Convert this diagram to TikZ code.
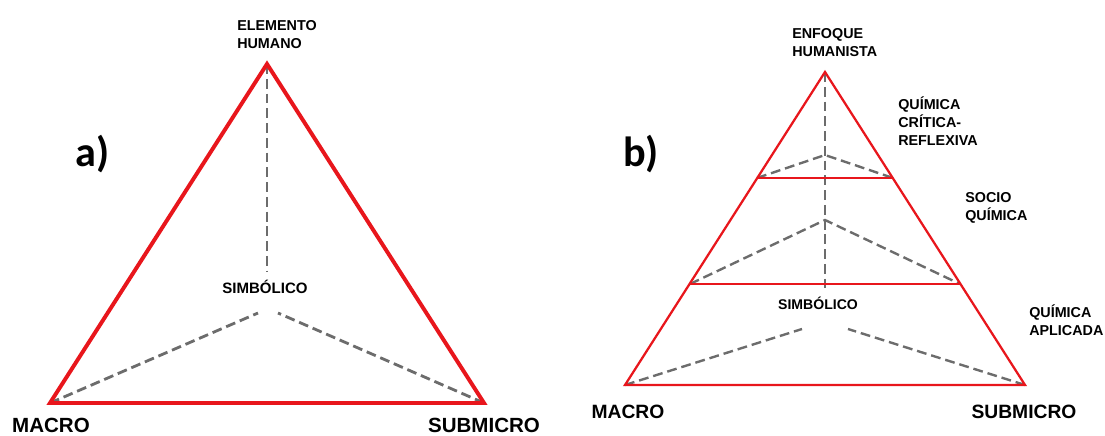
\documentclass[tikz,border=0pt]{standalone}
\usepackage{fontspec}
\setmainfont{Liberation Sans}
\newfontfamily\panelfont{Carlito}
\usetikzlibrary{positioning}
\definecolor{trired}{RGB}{232,22,28}
\definecolor{dashgray}{RGB}{108,108,108}
\tikzset{
  redside/.style={draw=trired, line width=2.8pt, line join=miter},
  thinside/.style={draw=trired, line width=1.6pt},
  hidden/.style={draw=dashgray, line width=2pt, dash pattern=on 7pt off 3.5pt},
  thinhidden/.style={hidden, line width=1.7pt},
  levelname/.style={font=\bfseries\fontsize{10.2}{12.8}\selectfont, align=left, inner sep=0pt, anchor=west},
  corner/.style={font=\bfseries\fontsize{14.6}{17}\selectfont, inner sep=0pt},
  smallcorner/.style={font=\bfseries\fontsize{13.7}{16}\selectfont, inner sep=0pt},
  panel/.style={font=\panelfont\bfseries\fontsize{30}{32}\selectfont, inner sep=0pt, anchor=base west}
}

\begin{document}
\begin{tikzpicture}[x=0.025cm, y=-0.025cm]
  \useasboundingbox (0,0) rectangle (1105,435);

  % a) plain triangle
  \coordinate (hum) at (267,64);
  \coordinate (mac) at (50,403);
  \coordinate (sub) at (484,403);
  \coordinate (humend) at (267,272);
  \coordinate (symleft) at (258,313);
  \coordinate (symright) at (278,313);
  \draw[hidden] (hum) -- (humend);
  \draw[hidden] (mac) -- (symleft);
  \draw[hidden] (sub) -- (symright);
  \draw[redside] (hum) -- (mac) -- (sub) -- cycle;

  \node[levelname] (elem) at (237,35) {ELEMENTO\\HUMANO};
  \node[font=\bfseries\fontsize{10.7}{13}\selectfont, inner sep=0pt] (simba) at (265,287) {SIMBÓLICO};
  \node[corner] (macroa) at (51,425) {MACRO};
  \node[corner] (submicroa) at (484,425) {SUBMICRO};
  \node[panel] (pa) at (75,166) {a)};

  % b) triangle cut in levels
  \coordinate (enf) at (825,72);
  \coordinate (macb) at (625,385);
  \coordinate (subb) at (1025,385);
  \coordinate (lvlonel) at (757,178);
  \coordinate (lvloner) at (893,178);
  \coordinate (lvltwol) at (690,284);
  \coordinate (lvltwor) at (960,284);
  \coordinate (peakone) at (825,155);
  \coordinate (peaktwo) at (825,220);
  \coordinate (enfend) at (825,288);
  \coordinate (symbl) at (802,329);
  \coordinate (symbr) at (848,329);
  \draw[thinhidden] (enf) -- (enfend);
  \draw[thinhidden] (lvlonel) -- (peakone) -- (lvloner);
  \draw[thinhidden] (lvltwol) -- (peaktwo) -- (lvltwor);
  \draw[thinhidden] (macb) -- (symbl);
  \draw[thinhidden] (subb) -- (symbr);
  \draw[thinside] (enf) -- (macb) -- (subb) -- cycle;
  \draw[thinside] (lvlonel) -- (lvloner);
  \draw[thinside] (lvltwol) -- (lvltwor);

  \node[levelname] (enfoque) at (792,43) {ENFOQUE\\HUMANISTA};
  \node[levelname] (critica) at (898,121) {QUÍMICA\\CRÍTICA-\\REFLEXIVA};
  \node[levelname] (socio) at (965,207.5) {SOCIO\\QUÍMICA};
  \node[levelname] (aplicada) at (1029,320.5) {QUÍMICA\\APLICADA};
  \node[font=\bfseries\fontsize{10}{12}\selectfont, inner sep=0pt] (simbb) at (818,303) {SIMBÓLICO};
  \node[smallcorner] (macrob) at (628,412) {MACRO};
  \node[smallcorner] (submicrob) at (1024,412) {SUBMICRO};
  \node[panel] (pb) at (623,166) {b)};
\end{tikzpicture}
\end{document}
